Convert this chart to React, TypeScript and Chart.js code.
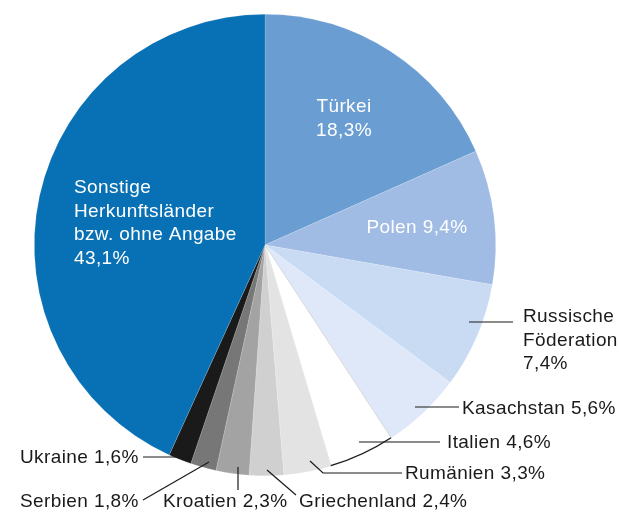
import React, { useEffect, useRef } from "react";
import { Chart, registerables } from "chart.js";

Chart.register(...registerables);

const categories = [
  "Türkei",
  "Polen",
  "Russische Föderation",
  "Kasachstan",
  "Italien",
  "Rumänien",
  "Griechenland",
  "Kroatien",
  "Serbien",
  "Ukraine",
  "Sonstige Herkunftsländer bzw. ohne Angabe",
];

const shares = [18.3, 9.4, 7.4, 5.6, 4.6, 3.3, 2.4, 2.3, 1.8, 1.6, 43.1];

const sliceColors = [
  "#6a9dd1",
  "#a0bce4",
  "#c9daf3",
  "#dfe8f8",
  "#ffffff",
  "#e3e3e3",
  "#d0d0d0",
  "#a3a3a3",
  "#777777",
  "#1a1a1a",
  "#0870b4",
];

const pct = (v: number) => v.toFixed(1).replace(".", ",") + "%";

// label text lines (names split as in the original)
const labelLines: string[][] = [
  ["Türkei", pct(shares[0])],
  ["Polen " + pct(shares[1])],
  ["Russische", "Föderation", pct(shares[2])],
  ["Kasachstan " + pct(shares[3])],
  ["Italien " + pct(shares[4])],
  ["Rumänien " + pct(shares[5])],
  ["Griechenland " + pct(shares[6])],
  ["Kroatien " + pct(shares[7])],
  ["Serbien " + pct(shares[8])],
  ["Ukraine " + pct(shares[9])],
  ["Sonstige", "Herkunftsländer", "bzw. ohne Angabe", pct(shares[10])],
];

type Layout = {
  x: number;
  y: number;
  align: CanvasTextAlign;
  color: string;
  leader?: number[][];
};

const labelLayout: Layout[] = [
  { x: 344, y: 112, align: "center", color: "#ffffff" },
  { x: 417, y: 233, align: "center", color: "#ffffff" },
  { x: 523, y: 322, align: "left", color: "#1a1a1a", leader: [[469, 322], [513, 322]] },
  { x: 462, y: 414, align: "left", color: "#1a1a1a", leader: [[415, 407], [459, 407]] },
  { x: 447, y: 448, align: "left", color: "#1a1a1a", leader: [[359, 442], [440, 442]] },
  { x: 405, y: 479, align: "left", color: "#1a1a1a", leader: [[310, 461], [323, 473], [402, 473]] },
  { x: 299, y: 507, align: "left", color: "#1a1a1a", leader: [[267, 470], [296, 495]] },
  { x: 163, y: 507, align: "left", color: "#1a1a1a", leader: [[238, 467], [238, 490]] },
  { x: 20, y: 507, align: "left", color: "#1a1a1a", leader: [[209, 462], [143, 500]] },
  { x: 20, y: 463, align: "left", color: "#1a1a1a", leader: [[143, 457], [190, 457]] },
  { x: 74, y: 193, align: "left", color: "#ffffff" },
];

const LINE_HEIGHT = 23.5;
const FONT = '19px "Liberation Sans", Arial, sans-serif';

const labelPlugin = {
  id: "pieLabels",
  afterDatasetsDraw(chart: any) {
    const ctx: any = chart.ctx;
    const meta = chart.getDatasetMeta(0);
    ctx.save();
    // black outer edge of the Italien slice
    const it = meta.data[4];
    if (it) {
      ctx.beginPath();
      ctx.strokeStyle = "#1a1a1a";
      ctx.lineWidth = 1.3;
      ctx.arc(it.x, it.y, it.outerRadius - 0.5, it.startAngle, it.endAngle);
      ctx.stroke();
    }
    ctx.font = FONT;
    ctx.letterSpacing = "0.4px";
    ctx.textBaseline = "alphabetic";
    labelLayout.forEach((l, i) => {
      if (l.leader) {
        ctx.beginPath();
        ctx.strokeStyle = "#1a1a1a";
        ctx.lineWidth = 1.2;
        l.leader.forEach((p, k) => (k === 0 ? ctx.moveTo(p[0], p[1]) : ctx.lineTo(p[0], p[1])));
        ctx.stroke();
      }
      ctx.fillStyle = l.color;
      ctx.textAlign = l.align;
      labelLines[i].forEach((t, k) => {
        ctx.fillText(t, l.x, l.y + k * LINE_HEIGHT);
      });
    });
    ctx.restore();
  },
};

export default function App() {
  const ref = useRef<HTMLCanvasElement | null>(null);
  useEffect(() => {
    if (!ref.current) return;
    const chart = new Chart(ref.current, {
      type: "pie",
      data: {
        labels: categories,
        datasets: [
          {
            data: shares,
            backgroundColor: sliceColors,
            borderColor: sliceColors.map((c, i) => (i === 4 ? "#b8b8b8" : "rgba(255,255,255,0.3)")),
            borderWidth: 0.5,
          },
        ],
      },
      options: {
        responsive: false,
        animation: false,
        layout: { padding: { left: 34, right: 123, top: 14, bottom: 36 } },
        plugins: {
          legend: { display: false },
          tooltip: { enabled: false },
        },
      },
      plugins: [labelPlugin],
    });
    return () => chart.destroy();
  }, []);
  return (
    <div style={{ position: "absolute", left: 0, top: 0, width: 619, height: 512, background: "#ffffff" }}>
      <canvas ref={ref} width={619} height={512} style={{ width: 619, height: 512 }} />
    </div>
  );
}
